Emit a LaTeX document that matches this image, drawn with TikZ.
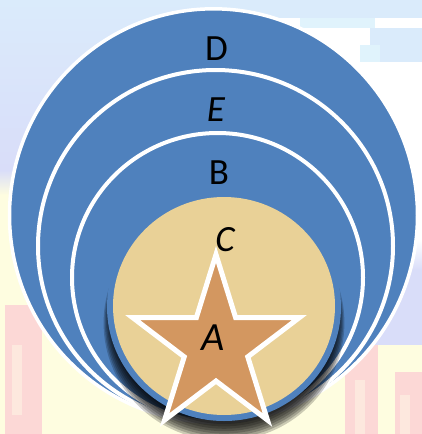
\documentclass[tikz,border=0pt]{standalone}
\usepackage{fontspec}
\setmainfont{Carlito}
\usetikzlibrary{shapes.geometric}
\definecolor{ofblue}{HTML}{4F81BD}
\definecolor{bgyellow}{HTML}{FEFDE0}
\definecolor{bgpink}{HTML}{FCD8D6}
\definecolor{bgpinklight}{HTML}{FDE8DE}
\definecolor{bglav}{HTML}{D9DDF9}
\definecolor{bgblue}{HTML}{DAEBFB}
\definecolor{bgcyan}{HTML}{E0F3FC}
\definecolor{papyrus}{HTML}{E9D197}
\definecolor{starfill}{HTML}{D39760}
\begin{document}
\begin{tikzpicture}[x=1pt,y=-1pt,
  ring/.style={fill=ofblue, draw=white, line width=4pt},
  lbl/.style={font=\fontsize{37}{40}\selectfont, text=black, inner sep=0pt},
  ilbl/.style={lbl, font=\fontsize{37}{40}\selectfont\itshape}]
\useasboundingbox (0,0) rectangle (422,434);
% background (faint watermark)
\fill[bgyellow] (0,0) rectangle (422,434);
\shade[top color=bgblue, bottom color=bglav] (0,0) rectangle (211,170);
\shade[top color=bglav, bottom color=bgyellow] (0,170) rectangle (211,195);
\fill[white] (211,0) rectangle (422,240);
\fill[bgblue] (211,0) rectangle (422,18);
\fill[bgcyan] (300,18) rectangle (375,28);
\fill[bgblue] (370,28) rectangle (422,62);
\fill[bgcyan] (360,45) rectangle (380,62);
\shade[top color=white, bottom color=bglav] (360,240) rectangle (422,270);
\fill[bglav] (360,270) rectangle (422,345);
\shade[top color=bglav, bottom color=bgyellow] (211,240) rectangle (360,260);
\fill[bgpink] (5,305) rectangle (42,434);
\fill[bgpinklight] (12,345) rectangle (22,415);
\fill[bgpink] (345,345) rectangle (378,434);
\fill[bgpink] (395,372) rectangle (422,434);
\fill[bgpinklight] (355,380) rectangle (365,434);
\fill[bgpinklight] (400,395) rectangle (410,434);
% nested circles
\draw[ring, line width=3.5pt] (213.5,215.4) ellipse [x radius=204pt, y radius=206.6pt];
\draw[ring] (215.5,246) ellipse [x radius=177.5pt, y radius=176pt];
\draw[ring] (217.5,277.5) ellipse [x radius=145.5pt, y radius=144.5pt];
% shadow of inner circle
\foreach \k in {0,...,7}
  \fill[black, opacity=0.2] (224,{316+\k}) ellipse [x radius={112pt+\k*1.2pt}, y radius={108pt+\k*1.4pt}];
% inner circle C
\fill[ofblue] (224,307) ellipse [x radius=117pt, y radius=114pt];
\fill[papyrus] (224,306) ellipse [x radius=111pt, y radius=109pt];
% star
\begin{scope}[shift={(216,346)}]
\draw[fill=starfill, draw=white, line width=5pt, line join=miter, miter limit=12]
  (90:87.5pt and 91.5pt) -- (126:33.4pt and 35pt)
  -- (162:87.5pt and 91.5pt) -- (198:33.4pt and 35pt)
  -- (234:87.5pt and 91.5pt) -- (270:33.4pt and 35pt)
  -- (306:87.5pt and 91.5pt) -- (342:33.4pt and 35pt)
  -- (18:87.5pt and 91.5pt) -- (54:33.4pt and 35pt) -- cycle;
\end{scope}
% labels
\node[lbl]  (d) at (216.5,49) {D};
\node[ilbl] (e) at (216,110) {E};
\node[lbl]  (b) at (219,173) {B};
\node[ilbl] (c) at (225,240) {C};
\node[ilbl, font=\fontsize{40}{44}\selectfont\itshape] (a) at (213.5,337.5) {A};
\end{tikzpicture}
\end{document}
